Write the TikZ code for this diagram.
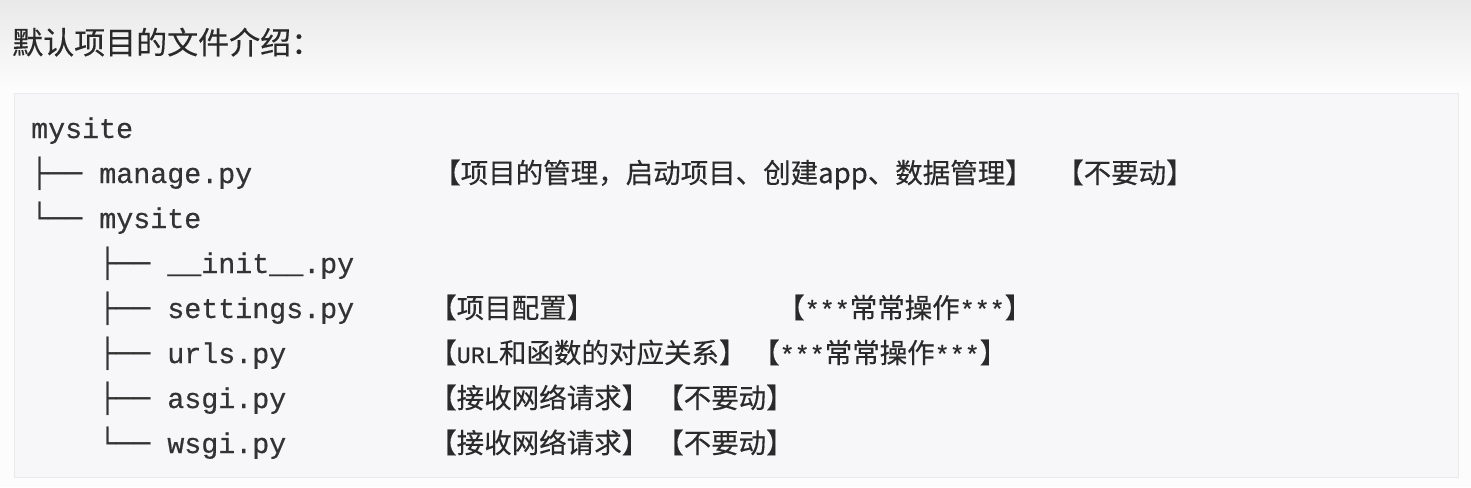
\documentclass[tikz,border=0pt]{standalone}
\usepackage{fontspec}
\newfontface\cjk{Noto Sans CJK SC}[FakeBold=0.35]
\newfontface\cjktitle{Noto Sans CJK SC}[FakeBold=0.3]
\newfontface\mono{Liberation Mono}[FakeBold=0.6]
\newfontface\boxfont{DejaVu Sans Mono}
\definecolor{pagetop}{HTML}{E9E9E9}
\definecolor{pagebot}{HTML}{FCFCFC}
\definecolor{boxfill}{HTML}{F7F7F9}
\definecolor{boxline}{HTML}{EAEAEC}
\definecolor{ink}{HTML}{2A2A2A}
\definecolor{treeink}{HTML}{333333}
\tikzset{
  titletext/.style={anchor=base west, inner sep=0pt, text=ink, font=\cjktitle\fontsize{31}{36}\selectfont},
  codeline/.style={anchor=base west, inner sep=0pt, text=treeink, font=\mono\fontsize{28.3}{34}\selectfont},
  note/.style={anchor=base west, inner sep=0pt, text=ink, font=\cjk\fontsize{27.5}{33}\selectfont},
}
\newcommand{\tree}[1]{{\boxfont #1}}
\newcommand{\mn}[1]{{\mono\fontsize{23.5}{28}\selectfont #1}}
\newcommand{\stars}{{\mono\fontsize{25}{30}\selectfont ***}}
\begin{document}
\begin{tikzpicture}[x=1pt,y=-1pt]
\useasboundingbox (0,0) rectangle (1471,487);
% page background
\fill[pagebot] (0,0) rectangle (1471,487);
\shade[top color=pagetop, bottom color=pagebot] (0,0) rectangle (1471,88);
% title
\node[titletext] (title) at (12,54) {默认项目的文件介绍：};
% code block
\filldraw[fill=boxfill, draw=boxline, line width=1pt] (14,93) rectangle (1458,477);
% tree lines
\node[codeline] (root)     at (31,138) {mysite};
\node[codeline] (manage)   at (31,183) {\tree{├── }manage.py};
\node[codeline] (sub)      at (31,228) {\tree{└── }mysite};
\node[codeline] (init)     at (99,273) {\tree{├── }\_\_init\_\_.py};
\node[codeline] (settings) at (99,318) {\tree{├── }settings.py};
\node[codeline] (urls)     at (99,363) {\tree{├── }urls.py};
\node[codeline] (asgi)     at (99,408) {\tree{├── }asgi.py};
\node[codeline] (wsgi)     at (99,453) {\tree{└── }wsgi.py};
% notes
\node[note] (nmanage)  at (433,183) {【项目的管理，启动项目、创建app、数据管理】};
\node[note] (nmanage2) at (1056,183) {【不要动】};
\node[note] (nset)     at (429,318) {【项目配置】};
\node[note] (nset2)    at (777,318) {【\stars 常常操作\stars】};
\node[note] (nurls)    at (429,363) {【\mn{URL}和函数的对应关系】};
\node[note] (nurls2)   at (752,363) {【\stars 常常操作\stars】};
\node[note] (nasgi)    at (429,408) {【接收网络请求】};
\node[note] (nasgi2)   at (656,408) {【不要动】};
\node[note] (nwsgi)    at (429,453) {【接收网络请求】};
\node[note] (nwsgi2)   at (656,453) {【不要动】};
\end{tikzpicture}
\end{document}
